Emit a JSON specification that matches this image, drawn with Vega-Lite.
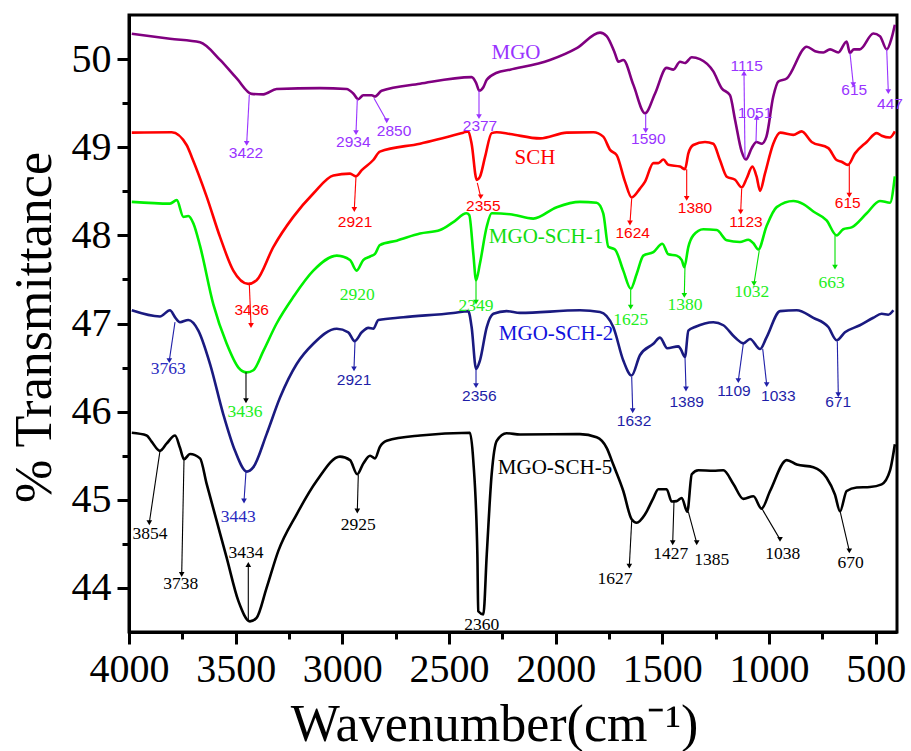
{
  "$schema": "https://vega.github.io/schema/vega-lite/v6.json",
  "width": 768,
  "height": 617,
  "autosize": {"type": "none"},
  "padding": {"left": 129, "top": 15, "right": 14, "bottom": 119},
  "background": "white",
  "config": {"view": {"stroke": "black", "strokeWidth": 3}, "font": "Liberation Serif"},
  "datasets": {
    "curves": [
      {"series":"MGO","wn":3987,"t":50.288},{"series":"MGO","wn":3808,"t":50.23},{"series":"MGO","wn":3667,"t":50.19},{"series":"MGO","wn":3573,"t":49.99},{"series":"MGO","wn":3495,"t":49.78},{"series":"MGO","wn":3425,"t":49.605},{"series":"MGO","wn":3370,"t":49.6},{"series":"MGO","wn":3308,"t":49.66},{"series":"MGO","wn":3105,"t":49.67},{"series":"MGO","wn":2980,"t":49.66},{"series":"MGO","wn":2949,"t":49.61},{"series":"MGO","wn":2925,"t":49.545},{"series":"MGO","wn":2902,"t":49.59},{"series":"MGO","wn":2862,"t":49.59},{"series":"MGO","wn":2847,"t":49.575},{"series":"MGO","wn":2816,"t":49.64},{"series":"MGO","wn":2636,"t":49.72},{"series":"MGO","wn":2394,"t":49.795},{"series":"MGO","wn":2373,"t":49.73},{"series":"MGO","wn":2358,"t":49.64},{"series":"MGO","wn":2339,"t":49.68},{"series":"MGO","wn":2323,"t":49.765},{"series":"MGO","wn":2276,"t":49.845},{"series":"MGO","wn":2214,"t":49.88},{"series":"MGO","wn":2027,"t":49.99},{"series":"MGO","wn":1901,"t":50.125},{"series":"MGO","wn":1792,"t":50.3},{"series":"MGO","wn":1761,"t":50.26},{"series":"MGO","wn":1723,"t":50.07},{"series":"MGO","wn":1706,"t":49.97},{"series":"MGO","wn":1683,"t":49.99},{"series":"MGO","wn":1636,"t":49.71},{"series":"MGO","wn":1581,"t":49.385},{"series":"MGO","wn":1534,"t":49.61},{"series":"MGO","wn":1480,"t":49.9},{"series":"MGO","wn":1448,"t":49.88},{"series":"MGO","wn":1417,"t":49.97},{"series":"MGO","wn":1394,"t":49.955},{"series":"MGO","wn":1362,"t":50.02},{"series":"MGO","wn":1324,"t":50.0},{"series":"MGO","wn":1261,"t":49.86},{"series":"MGO","wn":1222,"t":49.67},{"series":"MGO","wn":1183,"t":49.59},{"series":"MGO","wn":1159,"t":49.31},{"series":"MGO","wn":1128,"t":48.95},{"series":"MGO","wn":1108,"t":48.86},{"series":"MGO","wn":1081,"t":48.99},{"series":"MGO","wn":1059,"t":49.06},{"series":"MGO","wn":1034,"t":49.04},{"series":"MGO","wn":1012,"t":49.12},{"series":"MGO","wn":980,"t":49.575},{"series":"MGO","wn":956,"t":49.745},{"series":"MGO","wn":917,"t":49.78},{"series":"MGO","wn":823,"t":50.14},{"series":"MGO","wn":784,"t":50.09},{"series":"MGO","wn":745,"t":50.075},{"series":"MGO","wn":714,"t":50.11},{"series":"MGO","wn":675,"t":50.075},{"series":"MGO","wn":636,"t":50.2},{"series":"MGO","wn":621,"t":50.07},{"series":"MGO","wn":602,"t":50.11},{"series":"MGO","wn":574,"t":50.11},{"series":"MGO","wn":511,"t":50.29},{"series":"MGO","wn":480,"t":50.26},{"series":"MGO","wn":448,"t":50.11},{"series":"MGO","wn":425,"t":50.24},{"series":"MGO","wn":410,"t":50.39},
      {"series":"SCH","wn":3987,"t":49.165},{"series":"SCH","wn":3800,"t":49.17},{"series":"SCH","wn":3730,"t":49.025},{"series":"SCH","wn":3706,"t":48.89},{"series":"SCH","wn":3636,"t":48.44},{"series":"SCH","wn":3573,"t":47.98},{"series":"SCH","wn":3511,"t":47.6},{"series":"SCH","wn":3441,"t":47.45},{"series":"SCH","wn":3402,"t":47.49},{"series":"SCH","wn":3323,"t":47.87},{"series":"SCH","wn":3230,"t":48.21},{"series":"SCH","wn":3136,"t":48.475},{"series":"SCH","wn":3042,"t":48.68},{"series":"SCH","wn":2964,"t":48.7},{"series":"SCH","wn":2936,"t":48.67},{"series":"SCH","wn":2909,"t":48.74},{"series":"SCH","wn":2855,"t":48.855},{"series":"SCH","wn":2824,"t":48.95},{"series":"SCH","wn":2636,"t":49.04},{"series":"SCH","wn":2433,"t":49.165},{"series":"SCH","wn":2410,"t":49.18},{"series":"SCH","wn":2394,"t":49.04},{"series":"SCH","wn":2370,"t":48.63},{"series":"SCH","wn":2355,"t":48.665},{"series":"SCH","wn":2331,"t":48.89},{"series":"SCH","wn":2300,"t":49.16},{"series":"SCH","wn":2276,"t":49.17},{"series":"SCH","wn":2214,"t":49.15},{"series":"SCH","wn":2073,"t":49.1},{"series":"SCH","wn":1948,"t":49.165},{"series":"SCH","wn":1823,"t":49.17},{"series":"SCH","wn":1777,"t":49.12},{"series":"SCH","wn":1745,"t":48.97},{"series":"SCH","wn":1714,"t":48.91},{"series":"SCH","wn":1675,"t":48.61},{"series":"SCH","wn":1644,"t":48.43},{"series":"SCH","wn":1605,"t":48.53},{"series":"SCH","wn":1581,"t":48.61},{"series":"SCH","wn":1542,"t":48.82},{"series":"SCH","wn":1519,"t":48.82},{"series":"SCH","wn":1495,"t":48.86},{"series":"SCH","wn":1472,"t":48.8},{"series":"SCH","wn":1417,"t":48.78},{"series":"SCH","wn":1394,"t":48.75},{"series":"SCH","wn":1378,"t":48.93},{"series":"SCH","wn":1355,"t":49.025},{"series":"SCH","wn":1300,"t":49.06},{"series":"SCH","wn":1261,"t":49.04},{"series":"SCH","wn":1230,"t":48.855},{"series":"SCH","wn":1198,"t":48.665},{"series":"SCH","wn":1159,"t":48.63},{"series":"SCH","wn":1128,"t":48.545},{"series":"SCH","wn":1105,"t":48.645},{"series":"SCH","wn":1078,"t":48.78},{"series":"SCH","wn":1058,"t":48.665},{"series":"SCH","wn":1042,"t":48.505},{"series":"SCH","wn":1019,"t":48.7},{"series":"SCH","wn":980,"t":49.04},{"series":"SCH","wn":948,"t":49.165},{"series":"SCH","wn":886,"t":49.14},{"series":"SCH","wn":847,"t":49.18},{"series":"SCH","wn":800,"t":49.06},{"series":"SCH","wn":722,"t":48.99},{"series":"SCH","wn":683,"t":48.855},{"series":"SCH","wn":660,"t":48.835},{"series":"SCH","wn":630,"t":48.8},{"series":"SCH","wn":597,"t":48.93},{"series":"SCH","wn":542,"t":49.06},{"series":"SCH","wn":495,"t":49.16},{"series":"SCH","wn":472,"t":49.13},{"series":"SCH","wn":434,"t":49.11},{"series":"SCH","wn":410,"t":49.18},
      {"series":"MGO-SCH-1","wn":3987,"t":48.38},{"series":"MGO-SCH-1","wn":3808,"t":48.36},{"series":"MGO-SCH-1","wn":3776,"t":48.4},{"series":"MGO-SCH-1","wn":3745,"t":48.21},{"series":"MGO-SCH-1","wn":3722,"t":48.22},{"series":"MGO-SCH-1","wn":3698,"t":48.135},{"series":"MGO-SCH-1","wn":3667,"t":47.88},{"series":"MGO-SCH-1","wn":3605,"t":47.22},{"series":"MGO-SCH-1","wn":3542,"t":46.77},{"series":"MGO-SCH-1","wn":3487,"t":46.5},{"series":"MGO-SCH-1","wn":3448,"t":46.445},{"series":"MGO-SCH-1","wn":3417,"t":46.47},{"series":"MGO-SCH-1","wn":3370,"t":46.69},{"series":"MGO-SCH-1","wn":3308,"t":47.0},{"series":"MGO-SCH-1","wn":3230,"t":47.3},{"series":"MGO-SCH-1","wn":3136,"t":47.6},{"series":"MGO-SCH-1","wn":3026,"t":47.77},{"series":"MGO-SCH-1","wn":2964,"t":47.72},{"series":"MGO-SCH-1","wn":2933,"t":47.6},{"series":"MGO-SCH-1","wn":2902,"t":47.72},{"series":"MGO-SCH-1","wn":2870,"t":47.76},{"series":"MGO-SCH-1","wn":2847,"t":47.79},{"series":"MGO-SCH-1","wn":2824,"t":47.89},{"series":"MGO-SCH-1","wn":2745,"t":47.94},{"series":"MGO-SCH-1","wn":2636,"t":48.02},{"series":"MGO-SCH-1","wn":2542,"t":48.06},{"series":"MGO-SCH-1","wn":2480,"t":48.15},{"series":"MGO-SCH-1","wn":2418,"t":48.25},{"series":"MGO-SCH-1","wn":2405,"t":48.23},{"series":"MGO-SCH-1","wn":2386,"t":47.79},{"series":"MGO-SCH-1","wn":2373,"t":47.49},{"series":"MGO-SCH-1","wn":2355,"t":47.68},{"series":"MGO-SCH-1","wn":2323,"t":48.1},{"series":"MGO-SCH-1","wn":2300,"t":48.25},{"series":"MGO-SCH-1","wn":2214,"t":48.24},{"series":"MGO-SCH-1","wn":2105,"t":48.19},{"series":"MGO-SCH-1","wn":1995,"t":48.32},{"series":"MGO-SCH-1","wn":1886,"t":48.38},{"series":"MGO-SCH-1","wn":1808,"t":48.37},{"series":"MGO-SCH-1","wn":1777,"t":48.25},{"series":"MGO-SCH-1","wn":1753,"t":47.87},{"series":"MGO-SCH-1","wn":1722,"t":47.84},{"series":"MGO-SCH-1","wn":1683,"t":47.6},{"series":"MGO-SCH-1","wn":1648,"t":47.395},{"series":"MGO-SCH-1","wn":1620,"t":47.565},{"series":"MGO-SCH-1","wn":1589,"t":47.77},{"series":"MGO-SCH-1","wn":1542,"t":47.81},{"series":"MGO-SCH-1","wn":1500,"t":47.905},{"series":"MGO-SCH-1","wn":1472,"t":47.785},{"series":"MGO-SCH-1","wn":1433,"t":47.77},{"series":"MGO-SCH-1","wn":1409,"t":47.72},{"series":"MGO-SCH-1","wn":1397,"t":47.64},{"series":"MGO-SCH-1","wn":1378,"t":47.87},{"series":"MGO-SCH-1","wn":1355,"t":48.0},{"series":"MGO-SCH-1","wn":1308,"t":48.07},{"series":"MGO-SCH-1","wn":1245,"t":48.06},{"series":"MGO-SCH-1","wn":1198,"t":47.945},{"series":"MGO-SCH-1","wn":1136,"t":47.925},{"series":"MGO-SCH-1","wn":1097,"t":47.95},{"series":"MGO-SCH-1","wn":1073,"t":47.91},{"series":"MGO-SCH-1","wn":1050,"t":47.84},{"series":"MGO-SCH-1","wn":1012,"t":48.1},{"series":"MGO-SCH-1","wn":964,"t":48.32},{"series":"MGO-SCH-1","wn":886,"t":48.39},{"series":"MGO-SCH-1","wn":839,"t":48.355},{"series":"MGO-SCH-1","wn":792,"t":48.27},{"series":"MGO-SCH-1","wn":730,"t":48.17},{"series":"MGO-SCH-1","wn":683,"t":48.0},{"series":"MGO-SCH-1","wn":652,"t":48.07},{"series":"MGO-SCH-1","wn":613,"t":48.09},{"series":"MGO-SCH-1","wn":542,"t":48.25},{"series":"MGO-SCH-1","wn":480,"t":48.39},{"series":"MGO-SCH-1","wn":433,"t":48.37},{"series":"MGO-SCH-1","wn":410,"t":48.67},
      {"series":"MGO-SCH-2","wn":3987,"t":47.15},{"series":"MGO-SCH-2","wn":3855,"t":47.08},{"series":"MGO-SCH-2","wn":3808,"t":47.15},{"series":"MGO-SCH-2","wn":3784,"t":47.07},{"series":"MGO-SCH-2","wn":3761,"t":47.015},{"series":"MGO-SCH-2","wn":3722,"t":47.04},{"series":"MGO-SCH-2","wn":3675,"t":46.92},{"series":"MGO-SCH-2","wn":3620,"t":46.54},{"series":"MGO-SCH-2","wn":3558,"t":45.97},{"series":"MGO-SCH-2","wn":3503,"t":45.555},{"series":"MGO-SCH-2","wn":3448,"t":45.32},{"series":"MGO-SCH-2","wn":3417,"t":45.37},{"series":"MGO-SCH-2","wn":3355,"t":45.745},{"series":"MGO-SCH-2","wn":3292,"t":46.16},{"series":"MGO-SCH-2","wn":3214,"t":46.54},{"series":"MGO-SCH-2","wn":3136,"t":46.77},{"series":"MGO-SCH-2","wn":3026,"t":46.94},{"series":"MGO-SCH-2","wn":2972,"t":46.9},{"series":"MGO-SCH-2","wn":2942,"t":46.8},{"series":"MGO-SCH-2","wn":2909,"t":46.9},{"series":"MGO-SCH-2","wn":2878,"t":46.95},{"series":"MGO-SCH-2","wn":2855,"t":46.94},{"series":"MGO-SCH-2","wn":2831,"t":47.04},{"series":"MGO-SCH-2","wn":2714,"t":47.07},{"series":"MGO-SCH-2","wn":2480,"t":47.12},{"series":"MGO-SCH-2","wn":2410,"t":47.14},{"series":"MGO-SCH-2","wn":2394,"t":46.96},{"series":"MGO-SCH-2","wn":2373,"t":46.485},{"series":"MGO-SCH-2","wn":2355,"t":46.58},{"series":"MGO-SCH-2","wn":2323,"t":46.96},{"series":"MGO-SCH-2","wn":2292,"t":47.11},{"series":"MGO-SCH-2","wn":2230,"t":47.14},{"series":"MGO-SCH-2","wn":2167,"t":47.12},{"series":"MGO-SCH-2","wn":1886,"t":47.15},{"series":"MGO-SCH-2","wn":1792,"t":47.13},{"series":"MGO-SCH-2","wn":1730,"t":46.96},{"series":"MGO-SCH-2","wn":1683,"t":46.58},{"series":"MGO-SCH-2","wn":1644,"t":46.41},{"series":"MGO-SCH-2","wn":1605,"t":46.64},{"series":"MGO-SCH-2","wn":1542,"t":46.77},{"series":"MGO-SCH-2","wn":1511,"t":46.84},{"series":"MGO-SCH-2","wn":1477,"t":46.72},{"series":"MGO-SCH-2","wn":1425,"t":46.74},{"series":"MGO-SCH-2","wn":1414,"t":46.71},{"series":"MGO-SCH-2","wn":1394,"t":46.62},{"series":"MGO-SCH-2","wn":1378,"t":46.92},{"series":"MGO-SCH-2","wn":1347,"t":46.96},{"series":"MGO-SCH-2","wn":1261,"t":47.015},{"series":"MGO-SCH-2","wn":1214,"t":46.98},{"series":"MGO-SCH-2","wn":1159,"t":46.84},{"series":"MGO-SCH-2","wn":1120,"t":46.775},{"series":"MGO-SCH-2","wn":1089,"t":46.825},{"series":"MGO-SCH-2","wn":1042,"t":46.71},{"series":"MGO-SCH-2","wn":1012,"t":46.84},{"series":"MGO-SCH-2","wn":948,"t":47.14},{"series":"MGO-SCH-2","wn":870,"t":47.15},{"series":"MGO-SCH-2","wn":792,"t":47.065},{"series":"MGO-SCH-2","wn":722,"t":46.96},{"series":"MGO-SCH-2","wn":683,"t":46.81},{"series":"MGO-SCH-2","wn":644,"t":46.9},{"series":"MGO-SCH-2","wn":574,"t":46.98},{"series":"MGO-SCH-2","wn":511,"t":47.065},{"series":"MGO-SCH-2","wn":472,"t":47.11},{"series":"MGO-SCH-2","wn":441,"t":47.1},{"series":"MGO-SCH-2","wn":417,"t":47.15},
      {"series":"MGO-SCH-5","wn":3987,"t":45.76},{"series":"MGO-SCH-5","wn":3917,"t":45.73},{"series":"MGO-SCH-5","wn":3894,"t":45.66},{"series":"MGO-SCH-5","wn":3855,"t":45.555},{"series":"MGO-SCH-5","wn":3823,"t":45.64},{"series":"MGO-SCH-5","wn":3784,"t":45.73},{"series":"MGO-SCH-5","wn":3761,"t":45.59},{"series":"MGO-SCH-5","wn":3742,"t":45.46},{"series":"MGO-SCH-5","wn":3714,"t":45.52},{"series":"MGO-SCH-5","wn":3667,"t":45.47},{"series":"MGO-SCH-5","wn":3636,"t":45.18},{"series":"MGO-SCH-5","wn":3589,"t":44.76},{"series":"MGO-SCH-5","wn":3542,"t":44.34},{"series":"MGO-SCH-5","wn":3487,"t":43.85},{"series":"MGO-SCH-5","wn":3433,"t":43.62},{"series":"MGO-SCH-5","wn":3402,"t":43.66},{"series":"MGO-SCH-5","wn":3355,"t":44.0},{"series":"MGO-SCH-5","wn":3300,"t":44.42},{"series":"MGO-SCH-5","wn":3214,"t":44.835},{"series":"MGO-SCH-5","wn":3120,"t":45.215},{"series":"MGO-SCH-5","wn":3011,"t":45.49},{"series":"MGO-SCH-5","wn":2964,"t":45.45},{"series":"MGO-SCH-5","wn":2930,"t":45.29},{"series":"MGO-SCH-5","wn":2902,"t":45.41},{"series":"MGO-SCH-5","wn":2870,"t":45.5},{"series":"MGO-SCH-5","wn":2847,"t":45.47},{"series":"MGO-SCH-5","wn":2824,"t":45.6},{"series":"MGO-SCH-5","wn":2792,"t":45.67},{"series":"MGO-SCH-5","wn":2636,"t":45.73},{"series":"MGO-SCH-5","wn":2402,"t":45.76},{"series":"MGO-SCH-5","wn":2386,"t":45.44},{"series":"MGO-SCH-5","wn":2367,"t":44.38},{"series":"MGO-SCH-5","wn":2363,"t":43.735},{"series":"MGO-SCH-5","wn":2339,"t":43.7},{"series":"MGO-SCH-5","wn":2323,"t":44.38},{"series":"MGO-SCH-5","wn":2300,"t":45.29},{"series":"MGO-SCH-5","wn":2276,"t":45.67},{"series":"MGO-SCH-5","wn":2230,"t":45.755},{"series":"MGO-SCH-5","wn":2167,"t":45.74},{"series":"MGO-SCH-5","wn":1886,"t":45.745},{"series":"MGO-SCH-5","wn":1808,"t":45.71},{"series":"MGO-SCH-5","wn":1761,"t":45.59},{"series":"MGO-SCH-5","wn":1730,"t":45.4},{"series":"MGO-SCH-5","wn":1683,"t":45.1},{"series":"MGO-SCH-5","wn":1644,"t":44.78},{"series":"MGO-SCH-5","wn":1620,"t":44.74},{"series":"MGO-SCH-5","wn":1581,"t":44.835},{"series":"MGO-SCH-5","wn":1542,"t":45.02},{"series":"MGO-SCH-5","wn":1519,"t":45.12},{"series":"MGO-SCH-5","wn":1480,"t":45.12},{"series":"MGO-SCH-5","wn":1456,"t":44.98},{"series":"MGO-SCH-5","wn":1433,"t":44.985},{"series":"MGO-SCH-5","wn":1409,"t":45.02},{"series":"MGO-SCH-5","wn":1383,"t":44.865},{"series":"MGO-SCH-5","wn":1362,"t":45.29},{"series":"MGO-SCH-5","wn":1331,"t":45.335},{"series":"MGO-SCH-5","wn":1261,"t":45.33},{"series":"MGO-SCH-5","wn":1214,"t":45.335},{"series":"MGO-SCH-5","wn":1167,"t":45.18},{"series":"MGO-SCH-5","wn":1120,"t":45.01},{"series":"MGO-SCH-5","wn":1073,"t":45.04},{"series":"MGO-SCH-5","wn":1035,"t":44.9},{"series":"MGO-SCH-5","wn":995,"t":45.1},{"series":"MGO-SCH-5","wn":917,"t":45.45},{"series":"MGO-SCH-5","wn":870,"t":45.4},{"series":"MGO-SCH-5","wn":792,"t":45.37},{"series":"MGO-SCH-5","wn":730,"t":45.25},{"series":"MGO-SCH-5","wn":691,"t":45.06},{"series":"MGO-SCH-5","wn":667,"t":44.87},{"series":"MGO-SCH-5","wn":636,"t":45.1},{"series":"MGO-SCH-5","wn":589,"t":45.14},{"series":"MGO-SCH-5","wn":527,"t":45.145},{"series":"MGO-SCH-5","wn":472,"t":45.175},{"series":"MGO-SCH-5","wn":433,"t":45.33},{"series":"MGO-SCH-5","wn":410,"t":45.63}
    ],
    "arrows": [
      {"series":"MGO","wn":3436,"t":49.594,"wn2":3448.3,"t2":49.044,"dir":"down"},
      {"series":"MGO","wn":2929.8,"t":49.545,"wn2":2935.9,"t2":49.165,"dir":"down"},
      {"series":"MGO","wn":2851.6,"t":49.556,"wn2":2792,"t2":49.301,"dir":"down"},
      {"series":"MGO","wn":2359.4,"t":49.643,"wn2":2359.4,"t2":49.347,"dir":"down"},
      {"series":"MGO","wn":1578,"t":49.378,"wn2":1578,"t2":49.188,"dir":"down"},
      {"series":"MGO","wn":1112.5,"t":48.874,"wn2":1117.2,"t2":49.841,"dir":"up"},
      {"series":"MGO","wn":1060.9,"t":49.063,"wn2":1057.7,"t2":49.34,"dir":"up"},
      {"series":"MGO","wn":620.3,"t":50.068,"wn2":604.8,"t2":49.708,"dir":"down"},
      {"series":"MGO","wn":448.3,"t":50.114,"wn2":440.8,"t2":49.631,"dir":"down"},
      {"series":"SCH","wn":3436,"t":47.444,"wn2":3428,"t2":46.977,"dir":"down"},
      {"series":"SCH","wn":2935.9,"t":48.672,"wn2":2943.9,"t2":48.294,"dir":"down"},
      {"series":"SCH","wn":2367.3,"t":48.596,"wn2":2351.4,"t2":48.437,"dir":"down"},
      {"series":"SCH","wn":1643.6,"t":48.419,"wn2":1651.6,"t2":48.141,"dir":"down"},
      {"series":"SCH","wn":1385.8,"t":48.749,"wn2":1385.8,"t2":48.419,"dir":"down"},
      {"series":"SCH","wn":1128,"t":48.532,"wn2":1132.7,"t2":48.266,"dir":"down"},
      {"series":"SCH","wn":623.6,"t":48.797,"wn2":623.6,"t2":48.456,"dir":"down"},
      {"series":"MGO-SCH-1","wn":2373.4,"t":47.489,"wn2":2373.4,"t2":47.242,"dir":"down"},
      {"series":"MGO-SCH-5","wn":3451.6,"t":46.446,"wn2":3451.6,"t2":46.124,"dir":"down"},
      {"series":"MGO-SCH-1","wn":1648.3,"t":47.383,"wn2":1648.3,"t2":47.186,"dir":"down"},
      {"series":"MGO-SCH-1","wn":1393.7,"t":47.66,"wn2":1397,"t2":47.319,"dir":"down"},
      {"series":"MGO-SCH-1","wn":1045.5,"t":47.83,"wn2":1070.3,"t2":47.452,"dir":"down"},
      {"series":"MGO-SCH-1","wn":690.6,"t":48.001,"wn2":690.6,"t2":47.64,"dir":"down"},
      {"series":"MGO-SCH-2","wn":3784.4,"t":47.015,"wn2":3811.1,"t2":46.579,"dir":"down"},
      {"series":"MGO-SCH-2","wn":3451.6,"t":45.32,"wn2":3460.9,"t2":44.986,"dir":"down"},
      {"series":"MGO-SCH-2","wn":2940.6,"t":46.799,"wn2":2945.3,"t2":46.485,"dir":"down"},
      {"series":"MGO-SCH-2","wn":2373.4,"t":46.485,"wn2":2373.4,"t2":46.295,"dir":"down"},
      {"series":"MGO-SCH-2","wn":1643.6,"t":46.397,"wn2":1638.9,"t2":46.01,"dir":"down"},
      {"series":"MGO-SCH-2","wn":1393.7,"t":46.617,"wn2":1389.1,"t2":46.257,"dir":"down"},
      {"series":"MGO-SCH-2","wn":1120.5,"t":46.769,"wn2":1143.9,"t2":46.352,"dir":"down"},
      {"series":"MGO-SCH-2","wn":1029.5,"t":46.712,"wn2":1010.8,"t2":46.306,"dir":"down"},
      {"series":"MGO-SCH-2","wn":679.8,"t":46.799,"wn2":675.2,"t2":46.192,"dir":"down"},
      {"series":"MGO-SCH-5","wn":3854.7,"t":45.555,"wn2":3904.8,"t2":44.739,"dir":"down"},
      {"series":"MGO-SCH-5","wn":3742.2,"t":45.461,"wn2":3753,"t2":44.152,"dir":"down"},
      {"series":"MGO-SCH-5","wn":3440.8,"t":43.621,"wn2":3440.8,"t2":44.266,"dir":"up"},
      {"series":"MGO-SCH-5","wn":2925.2,"t":45.282,"wn2":2929.8,"t2":44.873,"dir":"down"},
      {"series":"MGO-SCH-5","wn":1643.6,"t":44.759,"wn2":1654.8,"t2":44.247,"dir":"down"},
      {"series":"MGO-SCH-5","wn":1445.3,"t":44.986,"wn2":1451.4,"t2":44.512,"dir":"down"},
      {"series":"MGO-SCH-5","wn":1378.3,"t":44.865,"wn2":1338.9,"t2":44.512,"dir":"down"},
      {"series":"MGO-SCH-5","wn":1034.2,"t":44.903,"wn2":948.4,"t2":44.551,"dir":"down"},
      {"series":"MGO-SCH-5","wn":667.2,"t":44.873,"wn2":623.6,"t2":44.42,"dir":"down"}
    ],
    "labelsSans": [
      {"series":"MGO","wn":3451.6,"t":48.937,"label":"3422"},
      {"series":"MGO","wn":2948.6,"t":49.063,"label":"2934"},
      {"series":"MGO","wn":2757.8,"t":49.188,"label":"2850"},
      {"series":"MGO","wn":2354.7,"t":49.241,"label":"2377"},
      {"series":"MGO","wn":1565.8,"t":49.09,"label":"1590"},
      {"series":"MGO","wn":1104.5,"t":49.916,"label":"1115"},
      {"series":"MGO","wn":1065.6,"t":49.392,"label":"1051"},
      {"series":"MGO","wn":600.2,"t":49.651,"label":"615"},
      {"series":"MGO","wn":432.8,"t":49.491,"label":"447"},
      {"series":"SCH","wn":3424.8,"t":47.148,"label":"3436"},
      {"series":"SCH","wn":2940.6,"t":48.152,"label":"2921"},
      {"series":"SCH","wn":2339.2,"t":48.331,"label":"2355"},
      {"series":"SCH","wn":1638.9,"t":48.032,"label":"1624"},
      {"series":"SCH","wn":1346.9,"t":48.305,"label":"1380"},
      {"series":"SCH","wn":1107.8,"t":48.152,"label":"1123"},
      {"series":"SCH","wn":631.1,"t":48.369,"label":"615"},
      {"series":"MGO-SCH-2","wn":2945.3,"t":46.36,"label":"2921"},
      {"series":"MGO-SCH-2","wn":2358,"t":46.181,"label":"2356"},
      {"series":"MGO-SCH-2","wn":1632.8,"t":45.896,"label":"1632"},
      {"series":"MGO-SCH-2","wn":1385.8,"t":46.105,"label":"1389"},
      {"series":"MGO-SCH-2","wn":1164.1,"t":46.23,"label":"1109"},
      {"series":"MGO-SCH-2","wn":956.4,"t":46.181,"label":"1033"},
      {"series":"MGO-SCH-2","wn":675.2,"t":46.105,"label":"671"}
    ],
    "labelsSerif": [
      {"series":"MGO-SCH-1","wn":2929.8,"t":47.319,"label":"2920"},
      {"series":"MGO-SCH-1","wn":2373.4,"t":47.193,"label":"2349"},
      {"series":"MGO-SCH-1","wn":3456.2,"t":45.991,"label":"3436"},
      {"series":"MGO-SCH-1","wn":1648.3,"t":47.042,"label":"1625"},
      {"series":"MGO-SCH-1","wn":1393.7,"t":47.205,"label":"1380"},
      {"series":"MGO-SCH-1","wn":1081.1,"t":47.356,"label":"1032"},
      {"series":"MGO-SCH-1","wn":706.1,"t":47.458,"label":"663"},
      {"series":"MGO-SCH-2","wn":3815.8,"t":46.485,"label":"3763"},
      {"series":"MGO-SCH-2","wn":3487.7,"t":44.804,"label":"3443"},
      {"series":"MGO-SCH-5","wn":3901.6,"t":44.614,"label":"3854"},
      {"series":"MGO-SCH-5","wn":3757.7,"t":44.039,"label":"3738"},
      {"series":"MGO-SCH-5","wn":3451.6,"t":44.398,"label":"3434"},
      {"series":"MGO-SCH-5","wn":2925.2,"t":44.713,"label":"2925"},
      {"series":"MGO-SCH-5","wn":2346.7,"t":43.576,"label":"2360"},
      {"series":"MGO-SCH-5","wn":1721.9,"t":44.096,"label":"1627"},
      {"series":"MGO-SCH-5","wn":1460.8,"t":44.387,"label":"1427"},
      {"series":"MGO-SCH-5","wn":1268.6,"t":44.312,"label":"1385"},
      {"series":"MGO-SCH-5","wn":935.8,"t":44.387,"label":"1038"},
      {"series":"MGO-SCH-5","wn":617,"t":44.284,"label":"670"}
    ],
    "names": [
      {"series":"MGO","wn":2186,"t":50.072,"label":"MGO"},
      {"series":"SCH","wn":2096.9,"t":48.874,"label":"SCH"},
      {"series":"MGO-SCH-1","wn":2045.3,"t":47.982,"label":"MGO-SCH-1"},
      {"series":"MGO-SCH-2","wn":1998.4,"t":46.886,"label":"MGO-SCH-2"},
      {"series":"MGO-SCH-5","wn":2003.1,"t":45.365,"label":"MGO-SCH-5"}
    ]
  },
  "layer": [
    {
      "data": {"name": "curves"},
      "mark": {"type": "line", "strokeWidth": 2.6, "interpolate": "monotone"},
      "encoding": {
        "x": {"field": "wn", "type": "quantitative",
          "scale": {"domain": [400, 4000], "reverse": true, "nice": false, "zero": false},
          "axis": {
            "values": [4000,3750,3500,3250,3000,2750,2500,2250,2000,1750,1500,1250,1000,750,500],
            "format": "d",
            "labelExpr": "datum.value % 500 === 0 ? datum.label : ''",
            "tickSize": {"condition": {"test": "datum.value % 500 === 0", "value": 12}, "value": 7},
            "tickWidth": 3, "tickColor": "black", "domainWidth": 3, "domainColor": "black",
            "labelFont": "Liberation Serif", "labelFontSize": 40, "labelColor": "black",
            "labelPadding": 5, "labelFlush": false, "labelOverlap": false, "grid": false,
            "title": "Wavenumber(cm⁻¹)", "titleFont": "Liberation Serif", "titleFontSize": 52,
            "titleFontWeight": "normal", "titleColor": "black",
            "titleX": 365, "titleY": 108, "titleBaseline": "alphabetic", "titleAlign": "center"
          }},
        "y": {"field": "t", "type": "quantitative",
          "scale": {"domain": [43.5, 50.5], "nice": false, "zero": false},
          "axis": {
            "values": [44,44.5,45,45.5,46,46.5,47,47.5,48,48.5,49,49.5,50],
            "labelExpr": "datum.value % 1 === 0 ? format(datum.value, 'd') : ''",
            "tickSize": {"condition": {"test": "datum.value % 1 === 0", "value": 12}, "value": 7},
            "tickWidth": 3, "tickColor": "black", "domainWidth": 3, "domainColor": "black",
            "labelFont": "Liberation Serif", "labelFontSize": 40, "labelColor": "black",
            "labelPadding": 6, "labelFlush": false, "labelOverlap": false, "grid": false,
            "title": "% Transmittance", "titleFont": "Liberation Serif", "titleFontSize": 52,
            "titleFontWeight": "normal", "titleColor": "black", "titleAngle": -90,
            "titleX": -79, "titleY": 312, "titleBaseline": "alphabetic", "titleAlign": "center"
          }},
        "color": {"field": "series", "type": "nominal",
          "scale": {"domain": ["MGO","SCH","MGO-SCH-1","MGO-SCH-2","MGO-SCH-5"], "range": ["#800080","#ff0000","#00f000","#1a1a80","#000000"]},
          "legend": null}
      }
    },
    {
      "data": {"name": "arrows"},
      "mark": {"type": "rule", "strokeWidth": 1.1},
      "encoding": {
        "x": {"field": "wn", "type": "quantitative"},
        "y": {"field": "t", "type": "quantitative"},
        "x2": {"field": "wn2"},
        "y2": {"field": "t2"},
        "color": {"field": "series", "type": "nominal",
          "scale": {"domain": ["MGO","SCH","MGO-SCH-1","MGO-SCH-2","MGO-SCH-5"], "range": ["#9933ff","#ff0000","#00e000","#2020a8","#000000"]},
          "legend": null}
      }
    },
    {
      "data": {"name": "arrows"},
      "mark": {"type": "point", "filled": true, "opacity": 1, "size": 32},
      "encoding": {
        "x": {"field": "wn2", "type": "quantitative"},
        "y": {"field": "t2", "type": "quantitative"},
        "shape": {"field": "dir", "type": "nominal", "scale": {"domain": ["down","up"], "range": ["triangle-down","triangle-up"]}, "legend": null},
        "color": {"field": "series", "type": "nominal",
          "scale": {"domain": ["MGO","SCH","MGO-SCH-1","MGO-SCH-2","MGO-SCH-5"], "range": ["#9933ff","#ff0000","#00e000","#2020a8","#000000"]},
          "legend": null}
      }
    },
    {
      "data": {"name": "labelsSans"},
      "mark": {"type": "text", "font": "Liberation Sans", "fontSize": 15.5, "align": "center", "baseline": "middle"},
      "encoding": {
        "x": {"field": "wn", "type": "quantitative"},
        "y": {"field": "t", "type": "quantitative"},
        "text": {"field": "label"},
        "color": {"field": "series", "type": "nominal",
          "scale": {"domain": ["MGO","SCH","MGO-SCH-1","MGO-SCH-2","MGO-SCH-5"], "range": ["#9933ff","#ff0000","#22ee22","#1e1ea8","#000000"]},
          "legend": null}
      }
    },
    {
      "data": {"name": "labelsSerif"},
      "mark": {"type": "text", "font": "Liberation Serif", "fontSize": 17.5, "align": "center", "baseline": "middle"},
      "encoding": {
        "x": {"field": "wn", "type": "quantitative"},
        "y": {"field": "t", "type": "quantitative"},
        "text": {"field": "label"},
        "color": {"field": "series", "type": "nominal",
          "scale": {"domain": ["MGO","SCH","MGO-SCH-1","MGO-SCH-2","MGO-SCH-5"], "range": ["#9933ff","#ff0000","#22ee22","#2a2ac0","#000000"]},
          "legend": null}
      }
    },
    {
      "data": {"name": "names"},
      "mark": {"type": "text", "font": "Liberation Serif", "fontSize": 21, "align": "center", "baseline": "middle"},
      "encoding": {
        "x": {"field": "wn", "type": "quantitative"},
        "y": {"field": "t", "type": "quantitative"},
        "text": {"field": "label"},
        "color": {"field": "series", "type": "nominal",
          "scale": {"domain": ["MGO","SCH","MGO-SCH-1","MGO-SCH-2","MGO-SCH-5"], "range": ["#9933ff","#ff0000","#11dd11","#1111dd","#000000"]},
          "legend": null}
      }
    }
  ],
  "resolve": {"scale": {"color": "independent"}}
}
